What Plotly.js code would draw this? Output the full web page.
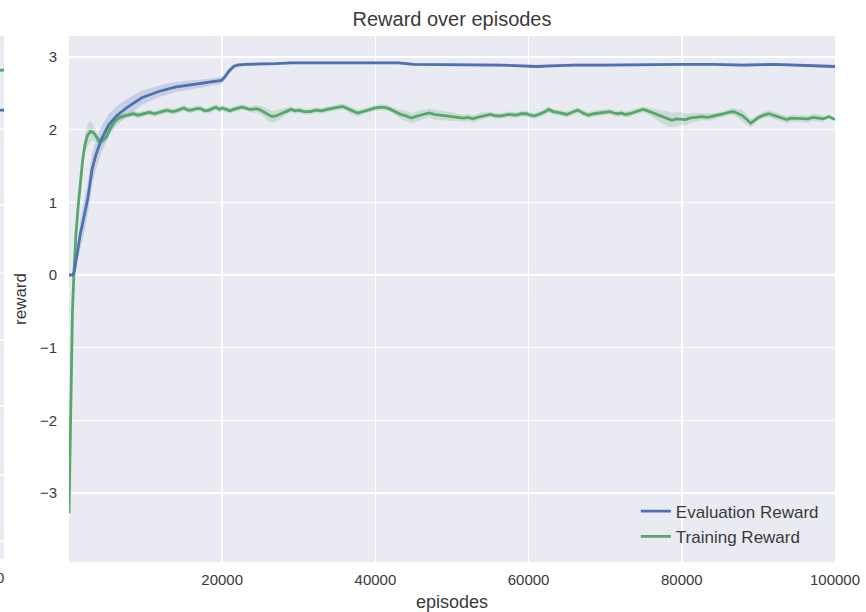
<!DOCTYPE html>
<html>
<head>
<meta charset="utf-8">
<script src="https://cdn.plot.ly/plotly-3.0.1.min.js"></script>
<style>html,body{margin:0;padding:0;background:#fff;}#chart{width:866px;height:612px;}</style>
</head>
<body>
<div id="chart"></div>
<script>
// ---- data ----
const evalEpisodes = [0,500,700,900,1200,1500,1800,2100,2500,3000,3500,4200,5200,6300,7500,9500,11800,14000,16000,18300,19900,20300,20900,21500,22000,23000,25000,27000,29000,32000,35000,38000,41000,43000,45000,48000,52000,56000,59000,61000,63000,66000,70000,75000,80000,84000,88000,92000,96000,98000,100000];
const evalReward   = [0.0,0.0,0.05,0.18,0.40,0.58,0.72,0.86,1.08,1.45,1.65,1.86,2.07,2.20,2.30,2.44,2.53,2.59,2.62,2.65,2.68,2.72,2.81,2.87,2.89,2.90,2.90,2.91,2.92,2.92,2.92,2.93,2.93,2.92,2.90,2.90,2.89,2.89,2.88,2.87,2.88,2.89,2.89,2.90,2.90,2.90,2.89,2.90,2.89,2.88,2.87];
const evalSpread   = [0.0,0.0,0.03,0.08,0.15,0.2,0.22,0.22,0.22,0.22,0.2,0.18,0.15,0.13,0.12,0.1,0.08,0.07,0.06,0.05,0.05,0.05,0.04,0.03,0.03,0.02,0.02,0.02,0.02,0.02,0.02,0.02,0.02,0.02,0.02,0.02,0.02,0.02,0.02,0.02,0.02,0.02,0.02,0.02,0.02,0.02,0.02,0.02,0.02,0.02,0.02];

const trainEpisodes = [0,150,300,450,650,900,1200,1500,1800,2100,2400,2800,3200,3600,4000,4400,4900,5400,6000,6600,7400,7900,8400,9000,9500,10000,10500,11100,11700,12200,12800,13400,14000,14500,15000,15500,16000,16600,17200,17700,18300,18700,19200,19600,20000,20500,21000,21500,22000,22500,23000,23500,24000,24500,25000,25500,26000,26500,27000,27500,28000,28500,29000,29500,30000,30700,31500,32200,33000,33700,34500,35100,35700,36200,36700,37200,37700,38300,39000,40000,40900,41500,42000,42600,43300,44000,44700,45200,45800,46400,47000,47700,48500,49200,50000,50700,51500,52100,52700,53300,54000,54500,55000,55700,56500,57400,58400,59000,59700,60200,60800,61300,61800,62200,62600,63200,63800,64400,65000,65700,66400,67100,67800,68500,69200,69900,70600,71100,71600,72100,72600,73200,73800,74300,74900,75300,75800,76200,76700,77200,77700,78200,78700,79300,80000,80500,81000,81800,82600,83400,84300,84900,85500,86100,86700,87200,87800,88400,89000,89500,90000,90700,91400,91900,92500,93100,93700,94300,95000,95500,96000,96500,97100,97800,98500,99200,100000];
const trainReward   = [-3.28,-2.15,-1.2,-0.5,0.05,0.55,0.95,1.3,1.6,1.8,1.92,1.98,1.96,1.9,1.83,1.85,1.9,2.02,2.12,2.17,2.19,2.21,2.22,2.20,2.21,2.23,2.24,2.22,2.24,2.26,2.27,2.25,2.26,2.28,2.3,2.27,2.27,2.29,2.29,2.26,2.27,2.29,2.31,2.28,2.3,2.28,2.26,2.28,2.29,2.31,2.3,2.28,2.28,2.29,2.27,2.24,2.2,2.18,2.19,2.21,2.24,2.26,2.28,2.26,2.27,2.25,2.25,2.27,2.26,2.28,2.3,2.31,2.32,2.3,2.27,2.25,2.23,2.25,2.27,2.3,2.31,2.3,2.28,2.25,2.21,2.19,2.16,2.18,2.2,2.22,2.23,2.21,2.2,2.19,2.18,2.17,2.16,2.17,2.15,2.17,2.19,2.2,2.21,2.19,2.19,2.21,2.2,2.22,2.22,2.2,2.19,2.21,2.23,2.25,2.28,2.25,2.24,2.22,2.21,2.24,2.27,2.23,2.2,2.22,2.23,2.24,2.25,2.23,2.22,2.23,2.21,2.22,2.24,2.26,2.28,2.27,2.25,2.23,2.21,2.19,2.17,2.15,2.13,2.15,2.15,2.14,2.16,2.17,2.18,2.17,2.19,2.2,2.22,2.24,2.25,2.23,2.2,2.15,2.09,2.13,2.17,2.2,2.22,2.2,2.18,2.16,2.14,2.16,2.16,2.15,2.16,2.15,2.17,2.16,2.15,2.18,2.14];
const trainSpread   = [0.1,0.3,0.2,0.15,0.12,0.1,0.1,0.1,0.1,0.12,0.15,0.15,0.1,0.07,0.05,0.05,0.05,0.05,0.04,0.04,0.04,0.04,0.04,0.04,0.04,0.04,0.04,0.04,0.04,0.04,0.04,0.04,0.04,0.04,0.04,0.04,0.04,0.04,0.04,0.04,0.04,0.04,0.04,0.04,0.04,0.04,0.04,0.04,0.04,0.04,0.04,0.04,0.05,0.05,0.06,0.07,0.08,0.08,0.08,0.07,0.05,0.04,0.04,0.04,0.04,0.04,0.04,0.04,0.04,0.04,0.04,0.04,0.04,0.04,0.05,0.05,0.05,0.04,0.04,0.04,0.04,0.04,0.04,0.05,0.06,0.07,0.07,0.07,0.07,0.06,0.06,0.07,0.07,0.07,0.06,0.05,0.05,0.05,0.05,0.05,0.05,0.04,0.04,0.04,0.04,0.04,0.04,0.04,0.04,0.04,0.04,0.04,0.04,0.04,0.04,0.04,0.04,0.04,0.04,0.04,0.04,0.04,0.04,0.04,0.04,0.04,0.04,0.04,0.04,0.04,0.04,0.04,0.04,0.04,0.04,0.04,0.05,0.06,0.07,0.09,0.1,0.1,0.1,0.1,0.09,0.08,0.07,0.06,0.05,0.05,0.04,0.04,0.04,0.04,0.05,0.06,0.08,0.07,0.06,0.05,0.04,0.04,0.05,0.05,0.05,0.05,0.05,0.05,0.05,0.05,0.05,0.05,0.05,0.05,0.05];

const xTicks = [20000,40000,60000,80000,100000];
const yTicks = [-3,-2,-1,0,1,2,3];

const blue = '#4C72B0', green = '#55A868';
const txt = '#3a3a3a';
const font = 'Liberation Sans, Arial, sans-serif';

function band(xs, ys, sp, color, name) {
  const upper = ys.map((v,i)=>v+sp[i]);
  const lower = ys.map((v,i)=>v-sp[i]);
  return [
    {x: xs, y: upper, mode:'lines', line:{width:0, color:color}, hoverinfo:'skip', showlegend:false, name:name+' hi'},
    {x: xs, y: lower, mode:'lines', line:{width:0, color:color}, fill:'tonexty', fillcolor:color, hoverinfo:'skip', showlegend:false, name:name+' lo'}
  ];
}

const traces = [
  ...band(evalEpisodes, evalReward, evalSpread, 'rgba(76,114,176,0.22)', 'eval'),
  ...band(trainEpisodes, trainReward, trainSpread, 'rgba(85,168,104,0.22)', 'train'),
  {x: trainEpisodes, y: trainReward, mode:'lines', name:'Training Reward', line:{color:green, width:2.8}, legendrank:2},
  {x: evalEpisodes, y: evalReward, mode:'lines', name:'Evaluation Reward', line:{color:blue, width:2.8}, legendrank:1}
];

// left-edge fragment of a neighbouring panel (paper coords)
const fx0 = (0-69)/766, fx1 = (4-69)/766;
const fragGrid = [0.823,0.679,0.549,0.422,0.297,0.165,0.040];
const shapes = [
  {type:'rect', xref:'paper', yref:'paper', x0:fx0-0.01, x1:fx1, y0:0.005, y1:1, fillcolor:'#EAEAF2', line:{width:0}},
  ...fragGrid.map(g=>({type:'line', xref:'paper', yref:'paper', x0:fx0-0.01, x1:fx1, y0:g, y1:g, line:{color:'#fff', width:1.5}})),
  {type:'line', xref:'paper', yref:'paper', x0:fx0-0.01, x1:fx1, y0:0.935, y1:0.935, line:{color:green, width:2.8}},
  {type:'line', xref:'paper', yref:'paper', x0:fx0-0.01, x1:fx1, y0:0.859, y1:0.859, line:{color:blue, width:2.8}}
];

const layout = {
  width: 866, height: 612,
  margin: {l:69, r:31, t:36, b:50, pad:0},
  paper_bgcolor: '#ffffff',
  plot_bgcolor: '#EAEAF2',
  font: {family: font, size: 15, color: txt},
  title: {text:'Reward over episodes', font:{family:font, size:20, color:txt}, x:0.5, xref:'paper', xanchor:'center', y:1-19/612, yanchor:'middle'},
  xaxis: {
    range:[0,100000], tickvals:xTicks, ticktext:xTicks.map(String),
    showgrid:true, gridcolor:'#ffffff', gridwidth:1.5, zeroline:false, showline:false,
    ticks:'', ticklabelstandoff:7, tickfont:{size:15, color:txt},
    title:{text:'episodes', font:{size:18, color:txt}, standoff:8}
  },
  yaxis: {
    range:[-3.95,3.29], tickvals:yTicks,
    showgrid:true, gridcolor:'#ffffff', gridwidth:1.5, zeroline:false, showline:false,
    ticks:'', ticklabelstandoff:11, tickfont:{size:15, color:txt},
    title:{text:'reward', font:{size:17, color:txt}, standoff:8}
  },
  legend: {x:0.740, xanchor:'left', y:0.014, yanchor:'bottom', bgcolor:'rgba(0,0,0,0)', borderwidth:0, font:{size:17, color:txt}, traceorder:'normal'},
  shapes: shapes,
  annotations: [
    {text:'0', xref:'paper', yref:'paper', x:fx0, y:-0.03, xanchor:'center', yanchor:'middle', showarrow:false, font:{size:15, color:txt}}
  ],
  showlegend: true
};

Plotly.newPlot('chart', traces, layout, {displayModeBar:false, staticPlot:true});
</script>
</body>
</html>
